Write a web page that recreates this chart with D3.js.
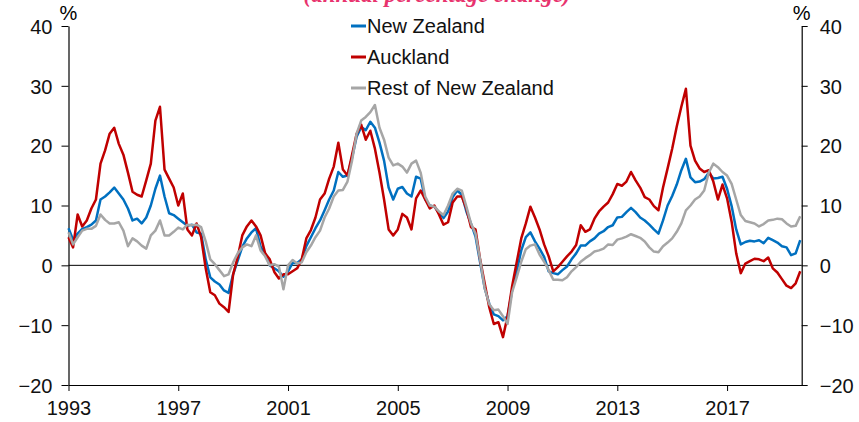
<!DOCTYPE html>
<html>
<head>
<meta charset="utf-8">
<script src="https://cdn.jsdelivr.net/npm/d3@7"></script>
<style>
  body { margin: 0; background: #fff; }
  svg { display: block; font-family: "Liberation Sans", Arial, sans-serif; }
  .tick text { font-size: 20px; fill: #111; }
  .tick line, .domain { stroke: #000; }
</style>
</head>
<body>
<div id="chart"></div>
<script>
var width = 859, height = 422;

// bi-monthly observations starting Jan 1993 (annual % change)
var startYear = 1993;
var stepsPerYear = 6;

var nzValues = [
  6.2, 4.3, 5.3, 6.1, 6.4, 6.8,  7.5, 11.0, 11.5, 12.2, 13.0, 12.0,
  11.0, 9.5, 7.5, 7.8, 7.0, 8.0,  10.0, 12.8, 15.0, 11.5, 8.7, 8.4,
  7.8, 7.2, 6.6, 6.8, 5.5, 5.3,  1.0, -2.0, -2.7, -3.2, -4.2, -4.6,
  -1.5, 0.8, 3.1, 4.5, 5.5, 6.2,  3.1, 2.0, 0.0, -0.5, -1.0, -1.9,
  -1.0, 0.4, 0.4, 1.0, 3.2, 4.7,  6.2, 7.5, 9.2, 11.0, 12.5, 15.6,
  14.8, 15.0, 18.0, 21.5, 23.1, 22.6,  24.0, 23.0, 20.5, 17.5, 13.0, 11.0,
  12.8, 13.1, 12.0, 11.5, 14.8, 14.5,  11.0, 10.0, 9.8, 8.8, 7.9, 9.0,
  11.4, 12.5, 11.8, 9.0, 7.0, 4.8,  0.5, -3.8, -6.4, -8.2, -8.5, -9.2,
  -8.5, -4.2, -1.0, 2.5, 4.7, 5.5,  4.0, 2.8, 1.4, -1.0, -1.3, -1.5,
  -0.8, -0.2, 1.0, 2.0, 3.3, 3.3,  4.0, 4.5, 5.3, 5.7, 6.4, 6.7,
  8.0, 8.1, 8.9, 9.6, 8.9, 8.0,  7.5, 6.8, 6.0, 5.3, 7.5, 10.0,
  11.6, 13.5, 15.9, 17.8, 14.7, 13.9,  14.0, 14.4, 15.5, 14.5, 14.6, 14.8,
  12.8, 9.9, 6.0, 3.5, 3.9, 4.1,  4.0, 4.2, 3.7, 4.6, 4.2, 3.8,
  3.2, 3.0, 1.7, 2.0, 4.2
];

var aklValues = [
  4.7, 3.0, 8.5, 6.5, 7.5, 9.5,  11.0, 17.0, 19.2, 22.0, 23.0, 20.3,
  18.5, 15.5, 12.3, 11.8, 11.5, 14.2,  17.0, 24.2, 26.5, 16.0, 14.5, 13.0,
  10.0, 12.0, 6.0, 5.0, 7.0, 4.7,  -0.5, -4.5, -5.0, -6.4, -7.0, -7.8,
  -1.5, 1.4, 5.0, 6.5, 7.5, 6.5,  5.0, 2.0, 1.0, -1.1, -2.2, -1.5,
  -1.5, -1.0, -0.5, 1.0, 4.5, 5.9,  8.0, 11.0, 12.0, 14.5, 16.5, 20.5,
  16.0, 15.0, 18.5, 22.0, 23.5, 21.0,  22.5, 19.5, 15.5, 11.0, 6.0, 5.0,
  6.0, 8.6, 8.0, 6.0, 11.2, 12.5,  11.0, 9.5, 10.0, 8.5, 6.8, 7.2,
  10.5, 11.5, 11.5, 9.5, 6.4, 6.0,  1.0, -3.0, -7.0, -9.8, -9.5, -12.0,
  -8.5, -3.5, 0.5, 4.5, 7.0, 9.8,  8.0, 6.0, 3.5, 1.5, -1.0, -0.3,
  0.6, 1.5, 2.3, 3.4, 6.7, 5.6,  6.0, 7.8, 9.0, 9.8, 10.5, 11.9,
  13.6, 13.3, 14.0, 15.6, 14.2, 13.0,  11.4, 11.0, 9.9, 9.2, 13.0, 16.2,
  19.5, 23.2, 26.5, 29.5, 20.0, 17.5,  16.2, 15.6, 15.9, 14.0, 11.0, 13.5,
  11.2, 7.3, 2.0, -1.3, 0.3, 0.7,  1.1, 1.0, 0.7, 1.3, -0.5, -1.2,
  -2.3, -3.4, -3.8, -3.0, -1.0
];

var restValues = [
  5.5, 3.5, 4.7, 5.8, 6.1, 6.1,  6.6, 8.5, 7.6, 7.0, 7.0, 7.2,
  5.8, 3.2, 4.5, 4.0, 3.3, 2.8,  5.0, 5.8, 7.5, 5.0, 5.0, 5.6,
  6.3, 6.0, 6.8, 6.7, 6.8, 6.4,  4.0, 1.0, 0.2, -0.8, -1.8, -1.5,
  0.5, 2.0, 3.0, 3.5, 3.2, 5.0,  2.5, 1.5, 0.0, 0.2, -0.2, -4.0,
  0.0, 0.9, 0.3, 0.5, 2.2, 3.3,  4.7, 5.8, 8.0, 9.5, 11.5, 12.5,
  12.6, 14.0, 17.5, 22.0, 24.2, 24.8,  25.6, 26.8, 23.0, 21.0, 18.0, 16.7,
  17.0, 16.5, 15.5, 17.0, 17.5, 15.5,  11.5, 10.0, 9.8, 9.0, 8.4, 10.0,
  12.0, 12.8, 12.5, 9.8, 7.0, 5.3,  1.0, -3.8, -6.5, -7.5, -7.4, -8.5,
  -9.8, -4.5, -2.0, 0.6, 2.7, 3.3,  3.5, 1.8, 0.6, -0.8, -2.4, -2.4,
  -2.5, -2.0, -1.0, -0.3, 0.6, 1.2,  1.7, 2.3, 2.5, 2.8, 3.5, 3.4,
  4.3, 4.5, 4.8, 5.2, 4.9, 4.6,  4.0, 3.0, 2.3, 2.2, 3.2, 3.8,
  4.5, 5.6, 7.0, 9.2, 10.0, 11.0,  11.5, 12.5, 15.5, 17.0, 16.4, 15.6,
  15.0, 13.6, 11.0, 8.4, 7.4, 7.2,  7.0, 6.5, 6.9, 7.5, 7.6, 7.8,
  7.7, 7.0, 6.5, 6.6, 8.2
];

var seriesNames = ["New Zealand", "Auckland", "Rest of New Zealand"];
var seriesColors = ["#0070c0", "#c00000", "#a6a6a6"];
var xTickYears = [1993, 1997, 2001, 2005, 2009, 2013, 2017];
var yTickValues = [-20, -10, 0, 10, 20, 30, 40];
var titleText = "(annual percentage change)";

var margin = {left: 68.5, right: 57.3, top: 26, bottom: 37};

var xScale = d3.scaleLinear()
    .domain([1993, 2019.72])
    .range([margin.left, width - margin.right]);

var yScale = d3.scaleLinear()
    .domain([-20, 40])
    .range([height - margin.bottom, margin.top]);

var svg = d3.select("#chart").append("svg")
    .attr("width", width)
    .attr("height", height);

// title sits above the visible area, only its lower edge shows (as in the source)
svg.append("text")
    .attr("x", 437)
    .attr("y", 2)
    .attr("text-anchor", "middle")
    .style("font-family", "'Liberation Serif', 'Times New Roman', serif")
    .style("font-style", "italic")
    .style("font-weight", "bold")
    .style("font-size", "23px")
    .style("fill", "#e8336e")
    .text(titleText);

// axes
svg.append("g")
    .attr("transform", "translate(" + margin.left + ",0)")
    .call(d3.axisLeft(yScale).tickValues(yTickValues).tickSize(7).tickSizeOuter(0).tickPadding(9))
    .call(g => g.selectAll(".tick text").attr("dy", "0.36em"));

svg.append("g")
    .attr("transform", "translate(" + (width - margin.right) + ",0)")
    .call(d3.axisRight(yScale).tickValues(yTickValues).tickSize(6).tickSizeOuter(0).tickPadding(12))
    .call(g => g.selectAll(".tick text").attr("dy", "0.36em"));

svg.append("g")
    .attr("transform", "translate(0," + yScale(-20) + ")")
    .call(d3.axisBottom(xScale).tickValues(xTickYears).tickFormat(d3.format("d")).tickSize(6).tickSizeOuter(0).tickPadding(10));

svg.selectAll(".domain").attr("stroke-width", 1.2);

// % units
svg.append("text").attr("x", margin.left).attr("y", 20)
    .attr("text-anchor", "middle").style("font-size", "20px").text("%");
svg.append("text").attr("x", width - margin.right).attr("y", 20)
    .attr("text-anchor", "middle").style("font-size", "20px").text("%");

// zero line
svg.append("line")
    .attr("x1", xScale(1993))
    .attr("x2", xScale(2019.72))
    .attr("y1", yScale(0))
    .attr("y2", yScale(0))
    .style("stroke", "#000")
    .style("stroke-width", 1);

var lineGen = d3.line()
    .x((d, i) => xScale(startYear + i / stepsPerYear))
    .y(d => yScale(d));

var allSeries = [nzValues, aklValues, restValues];

for (var j = 0; j < allSeries.length; j++) {
  svg.append("path")
    .datum(allSeries[j])
    .attr("d", lineGen)
    .style("fill", "none")
    .style("stroke", seriesColors[j])
    .style("stroke-width", 2.5)
    .style("stroke-linejoin", "round");
}

// legend
var legend = svg.append("g").attr("transform", "translate(351,0)");
seriesNames.forEach(function(name, j) {
  var yb = 33 + j * 31;
  legend.append("line")
    .attr("x1", 0).attr("x2", 15)
    .attr("y1", yb - 7).attr("y2", yb - 7)
    .style("stroke", seriesColors[j])
    .style("stroke-width", 3);
  legend.append("text")
    .attr("x", 16).attr("y", yb)
    .style("font-size", "20px")
    .style("fill", "#111")
    .text(name);
});
</script>
</body>
</html>
